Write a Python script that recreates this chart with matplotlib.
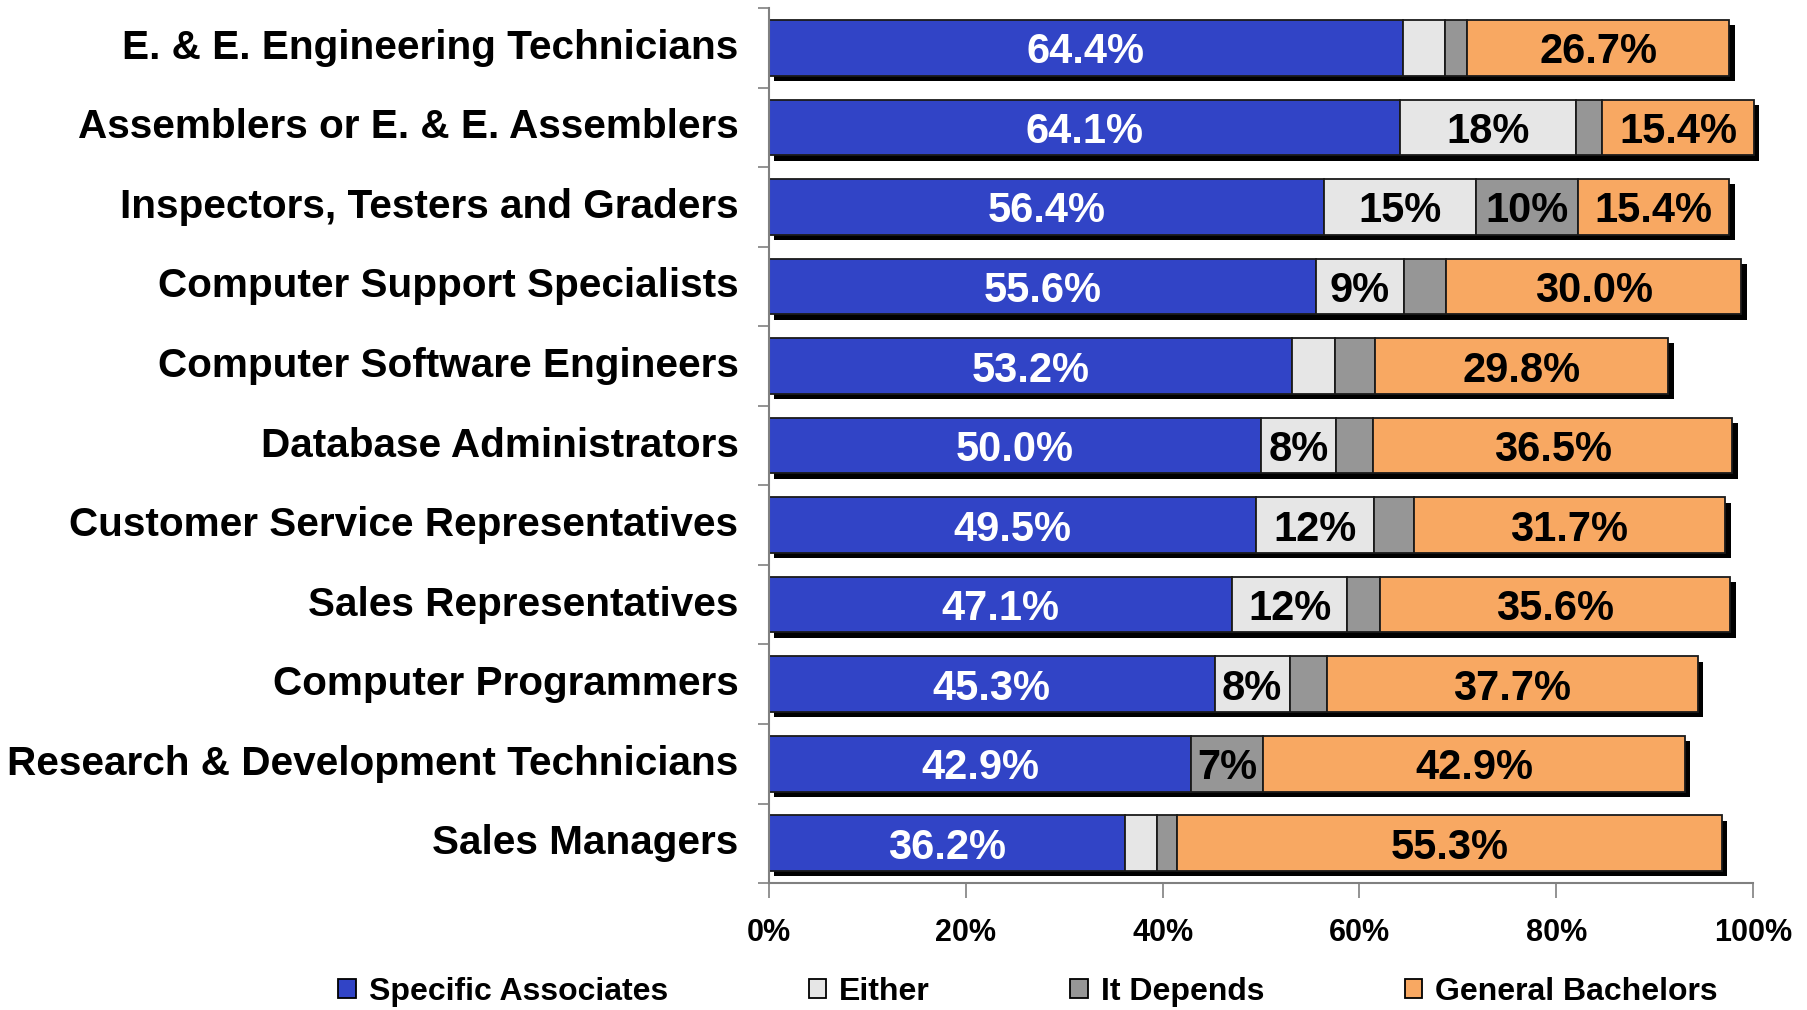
import matplotlib
matplotlib.use("Agg")
import matplotlib.pyplot as plt
import matplotlib.patheffects as pe
from matplotlib.patches import Patch
import numpy as np

categories = [
    "E. & E. Engineering Technicians",
    "Assemblers or E. & E. Assemblers",
    "Inspectors, Testers and Graders",
    "Computer Support Specialists",
    "Computer Software Engineers",
    "Database Administrators",
    "Customer Service Representatives",
    "Sales Representatives",
    "Computer Programmers",
    "Research & Development Technicians",
    "Sales Managers",
]
specific_associates = [64.4, 64.1, 56.4, 55.6, 53.2, 50.0, 49.5, 47.1, 45.3, 42.9, 36.2]
either = [4.3, 17.9, 15.4, 8.9, 4.3, 7.6, 12.0, 11.6, 7.6, 0.0, 3.2]
it_depends = [2.2, 2.7, 10.4, 4.3, 4.1, 3.8, 4.0, 3.4, 3.8, 7.3, 2.1]
general_bachelors = [26.7, 15.4, 15.4, 30.0, 29.8, 36.5, 31.7, 35.6, 37.7, 42.9, 55.3]

series_names = ["Specific Associates", "Either", "It Depends", "General Bachelors"]
colors = ["#3144C6", "#E6E6E6", "#969696", "#F8A862"]
x_ticks = [0, 20, 40, 60, 80, 100]
x_ticklabels = ["0%", "20%", "40%", "60%", "80%", "100%"]

plt.rcParams['font.family'] = ['Liberation Sans', 'DejaVu Sans']
plt.rcParams['font.weight'] = 'bold'

fig = plt.figure(figsize=(18.08, 10.10), dpi=100)
ax = fig.add_axes([0.4253, 0.1257, 0.5443, 0.8663])

y = np.arange(len(categories))
data = [specific_associates, either, it_depends, general_bachelors]
left = np.zeros(len(categories))
shadow = [pe.SimplePatchShadow(offset=(3.8, -3.8), shadow_rgbFace='black', alpha=1.0), pe.Normal()]
for vals, col, name in zip(data, colors, series_names):
    vals = np.array(vals)
    bars = ax.barh(y, vals, left=left, height=0.70, color=col, edgecolor='#1a1a1a',
                   linewidth=1.3, label=name, zorder=2)
    for b in bars:
        b.set_path_effects(shadow)
        b.set_clip_on(False)
    left = left + vals

# labels
left = np.zeros(len(categories))
for si, vals in enumerate(data):
    for i, v in enumerate(vals):
        cx = left[i] + v / 2
        if si == 0:
            txt, col = f"{v:.1f}%", 'white'
        elif si == 3:
            txt, col = f"{v:.1f}%", 'black'
        else:
            if v < 7:
                continue
            txt, col = f"{round(v):.0f}%", 'black'
        ax.text(cx, i, txt, ha='center', va='center_baseline', color=col,
                fontsize=30, fontweight='bold', zorder=5)
    left = left + np.array(vals)

ax.set_xlim(0, 100)
ax.set_ylim(len(categories) - 0.5, -0.5)

ax.set_yticks(y)
ax.set_yticklabels(categories, fontsize=29.2, fontweight='bold')
ax.set_yticks(np.arange(-0.5, len(categories) + 0.5, 1.0), minor=True)
ax.tick_params(axis='y', which='major', length=0, pad=22)
ax.tick_params(axis='y', which='minor', length=8, width=1.2, color='#808080')
for lbl in ax.get_yticklabels():
    lbl.set_va('center')

ax.set_xticks(x_ticks)
ax.set_xticklabels(x_ticklabels, fontsize=22, fontweight='bold')
ax.tick_params(axis='x', which='major', length=11, width=1.2, color='#808080', pad=14)

for s in ['top', 'right']:
    ax.spines[s].set_visible(False)
for s in ['left', 'bottom']:
    ax.spines[s].set_color('#808080')
    ax.spines[s].set_linewidth(1.5)

handles = [Patch(facecolor=c, edgecolor='black', linewidth=1.3) for c in colors]
fig.legend(handles, series_names, loc='center', bbox_to_anchor=(0.5686, 0.018),
           ncol=4, frameon=False, prop={'size': 23, 'weight': 'bold'},
           handlelength=0.55, handleheight=0.55, handletextpad=0.4,
           columnspacing=4.4, borderpad=0)

fig.savefig("out.png", dpi=100)
